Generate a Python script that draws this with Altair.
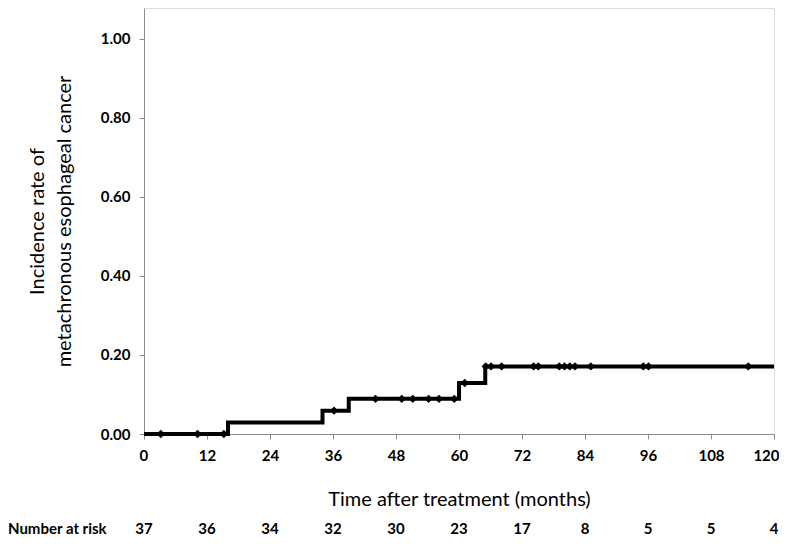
import altair as alt
import pandas as pd

# Step curve (cumulative incidence) – event times and levels
step_time = [0, 16, 34, 39, 60, 65, 120]
step_rate = [0.0, 0.029, 0.059, 0.089, 0.129, 0.171, 0.171]

# Censored observations
cens_time = [3.2, 10.2, 15.2, 36.2, 44.1, 49.1, 51.2, 54.2, 56.2, 59.1, 61.1,
             65.1, 66.1, 68.1, 74.2, 75.1, 79.1, 80.1, 81.1, 82.1, 85.1, 95.1, 96.1, 115.1]
cens_rate = [0.0, 0.0, 0.0, 0.059, 0.089, 0.089, 0.089, 0.089, 0.089, 0.089, 0.129,
             0.171, 0.171, 0.171, 0.171, 0.171, 0.171, 0.171, 0.171, 0.171, 0.171, 0.171, 0.171, 0.171]

# Number at risk table
risk_time = [0, 12, 24, 36, 48, 60, 72, 84, 96, 108, 120]
risk_count = [37, 36, 34, 32, 30, 23, 17, 8, 5, 5, 4]

FONT = "Lato"
AXIS_GREY = "#8c8c8c"

step_df = pd.DataFrame({"t": step_time, "r": step_rate})
cens_df = pd.DataFrame({"t": cens_time, "r": cens_rate})
risk_df = pd.DataFrame({"t": risk_time, "n": [str(v) for v in risk_count]})
label_df = pd.DataFrame({"label": ["Number at risk"]})

x_scale = alt.Scale(domain=[0, 120], nice=False, zero=False)
y_scale = alt.Scale(domain=[0, 1.078], nice=False)

x_axis = alt.Axis(
    values=risk_time, grid=False, tickSize=5, tickColor=AXIS_GREY, domainColor=AXIS_GREY,
    labelFont=FONT, labelFontSize=15, labelFontWeight="bold", labelColor="black",
    labelPadding=9, labelFlush=True, labelFlushOffset=5,
    title="Time after treatment (months)", titleFont=FONT,
    titleFontSize=20, titleFontWeight="normal", titleColor="black", titlePadding=26,
)
y_axis = alt.Axis(
    values=[0, 0.2, 0.4, 0.6, 0.8, 1.0], format=".2f", grid=False, tickSize=5,
    tickColor=AXIS_GREY, domainColor=AXIS_GREY, labelFont=FONT, labelFontSize=15,
    labelFontWeight="bold", labelColor="black", labelPadding=9,
    title=["Incidence rate of", "metachronous esophageal cancer"], titleFont=FONT,
    titleFontSize=20, titleFontWeight="normal", titleColor="black", titlePadding=26,
    titleLineHeight=27,
)

line = alt.Chart(step_df).mark_line(interpolate="step-after", color="black", strokeWidth=4).encode(
    x=alt.X("t:Q", scale=x_scale, axis=x_axis),
    y=alt.Y("r:Q", scale=y_scale, axis=y_axis),
)

cens = alt.Chart(cens_df).mark_point(shape="diamond", filled=True, color="black", size=70, opacity=1).encode(
    x=alt.X("t:Q", scale=x_scale),
    y=alt.Y("r:Q", scale=y_scale),
)

risk = alt.Chart(risk_df).mark_text(font=FONT, fontSize=15, fontWeight="bold", color="black",
                                    baseline="middle", align="center").encode(
    x=alt.X("t:Q", scale=x_scale),
    y=alt.value(521),
    text="n:N",
)

risk_label = alt.Chart(label_df).mark_text(font=FONT, fontSize=15, fontWeight="bold", color="black",
                                           baseline="middle", align="left").encode(
    x=alt.value(-136),
    y=alt.value(521),
    text="label:N",
)

chart = alt.layer(line, cens, risk, risk_label).properties(
    width=630, height=426,
    autosize=alt.AutoSizeParams(type="none"),
    padding={"left": 136, "top": 0, "right": 5, "bottom": 104},
).configure_view(stroke=None).configure(background="white")

chart.save("out.html", embed_options={"renderer": "svg", "actions": False})
